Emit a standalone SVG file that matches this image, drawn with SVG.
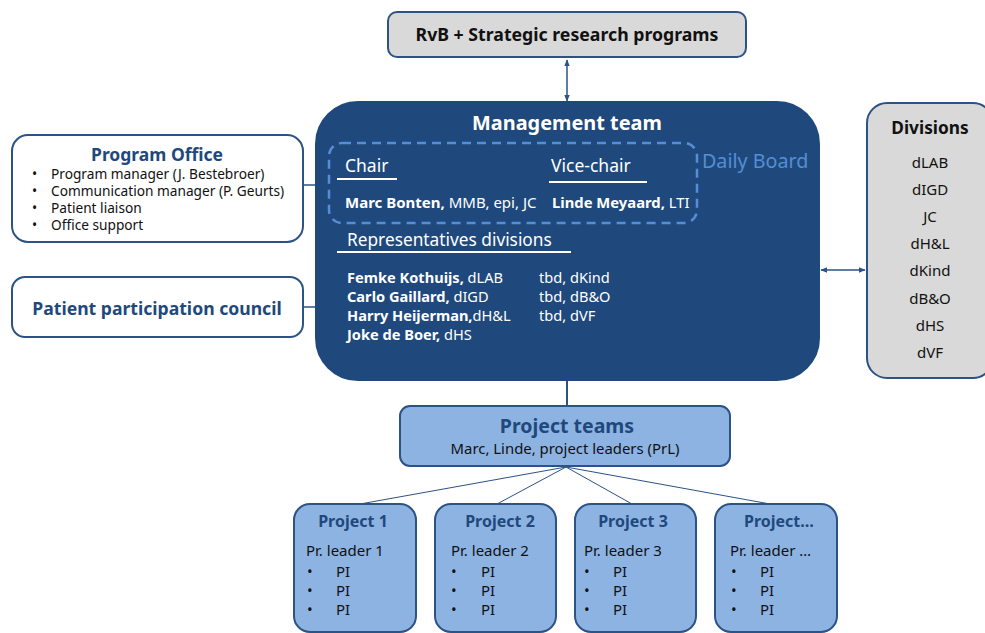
<svg xmlns="http://www.w3.org/2000/svg" width="985" height="633" viewBox="0 0 985 633">
<style>
text{font-family:"Noto Sans","Open Sans","DejaVu Sans",sans-serif;}
.box{stroke:#2c5286;stroke-width:2;}
.gray{fill:#d9d9d9;}
.white{fill:#ffffff;}
.proj{fill:#8db3e2;}
.conn{stroke:#2c5286;fill:none;}
.wt{fill:#ffffff;}
.navy{fill:#1f497d;}
.blk{fill:#111111;}
.b{font-weight:bold;}
.ul{stroke:#ffffff;stroke-width:2;}
</style>
<defs>
<marker id="ah" viewBox="0 0 10 10" refX="9" refY="5" markerWidth="7" markerHeight="7" orient="auto-start-reverse" markerUnits="userSpaceOnUse">
<path d="M0,1 L10,5 L0,9 z" fill="#2c5286"/>
</marker>
</defs>
<g id="connectors">
<line class="conn" x1="567" y1="60" x2="567" y2="101" stroke-width="1.5" marker-start="url(#ah)" marker-end="url(#ah)"/>
<line class="conn" x1="303" y1="185" x2="316" y2="185" stroke-width="1.5"/>
<line class="conn" x1="303" y1="307" x2="316" y2="307" stroke-width="1.5"/>
<line class="conn" x1="821" y1="270" x2="865" y2="270" stroke-width="1.5" marker-start="url(#ah)" marker-end="url(#ah)"/>
<line class="conn" x1="567" y1="380" x2="567" y2="406" stroke-width="2"/>
<line class="conn" x1="566" y1="467" x2="360" y2="504" stroke-width="1"/>
<line class="conn" x1="566" y1="467" x2="497" y2="504" stroke-width="1"/>
<line class="conn" x1="566" y1="467" x2="632" y2="504" stroke-width="1"/>
<line class="conn" x1="566" y1="467" x2="770" y2="504" stroke-width="1"/>
</g>
<g id="rvb">
<rect class="box gray" x="388" y="12" width="358" height="45" rx="9"/>
<text x="567" y="41" text-anchor="middle" class="blk b" font-size="17.7">RvB + Strategic research programs</text>
</g>
<g id="management">
<rect x="316" y="102" width="503" height="278" rx="42" fill="#1f497d" stroke="#1f497d" stroke-width="2"/>
<text x="567" y="130" text-anchor="middle" class="wt b" font-size="19.9">Management team</text>
<rect x="329" y="143" width="368" height="80" rx="13" fill="none" stroke="#558ed5" stroke-width="2.5" stroke-dasharray="9,6"/>
<text x="702" y="168" font-size="19.7" fill="#558ed5">Daily Board</text>
<text x="345" y="172" class="wt" font-size="17.5">Chair</text>
<line class="ul" x1="337" y1="179" x2="397" y2="179"/>
<text x="551" y="172" class="wt" font-size="17.5">Vice-chair</text>
<line class="ul" x1="549" y1="182" x2="647" y2="182"/>
<text x="345" y="208" class="wt" font-size="15"><tspan class="b">Marc Bonten,</tspan> MMB, epi, JC</text>
<text x="552" y="208" class="wt" font-size="14.8"><tspan class="b">Linde Meyaard,</tspan> LTI</text>
<text x="347" y="246" class="wt" font-size="17.3">Representatives divisions</text>
<line class="ul" x1="337" y1="252" x2="571" y2="252"/>
<g class="wt" font-size="14.6">
<text x="347" y="283"><tspan class="b">Femke Kothuijs,</tspan> dLAB</text>
<text x="347" y="302"><tspan class="b">Carlo Gaillard,</tspan> dIGD</text>
<text x="347" y="321"><tspan class="b">Harry Heijerman,</tspan>dH&amp;L</text>
<text x="347" y="340"><tspan class="b">Joke de Boer,</tspan> dHS</text>
<text x="539" y="283">tbd, dKind</text>
<text x="539" y="302">tbd, dB&amp;O</text>
<text x="539" y="321">tbd, dVF</text>
</g>
</g>
<g id="program-office">
<rect class="box white" x="12" y="135" width="291" height="107" rx="16"/>
<text x="157" y="161" text-anchor="middle" class="navy b" font-size="17.5">Program Office</text>
<g class="blk" font-size="13.7">
<text x="32" y="179">•</text><text x="51" y="179">Program manager (J. Bestebroer)</text>
<text x="32" y="196">•</text><text x="51" y="196">Communication manager (P. Geurts)</text>
<text x="32" y="213">•</text><text x="51" y="213">Patient liaison</text>
<text x="32" y="230">•</text><text x="51" y="230">Office support</text>
</g>
</g>
<g id="patient-council">
<rect class="box white" x="12" y="277" width="291" height="60" rx="13"/>
<text x="157" y="315" text-anchor="middle" class="navy b" font-size="17.6">Patient participation council</text>
</g>
<g id="divisions">
<rect class="box gray" x="867" y="103" width="126" height="275" rx="20"/>
<text x="930" y="134" text-anchor="middle" class="blk b" font-size="17.3">Divisions</text>
<g class="blk" font-size="15" text-anchor="middle">
<text x="930" y="168">dLAB</text>
<text x="930" y="195">dIGD</text>
<text x="930" y="222">JC</text>
<text x="930" y="249">dH&amp;L</text>
<text x="930" y="276">dKind</text>
<text x="930" y="304">dB&amp;O</text>
<text x="930" y="331">dHS</text>
<text x="930" y="358">dVF</text>
</g>
</g>
<g id="project-teams">
<rect class="box proj" x="400" y="406" width="330" height="60" rx="10"/>
<text x="567" y="433" text-anchor="middle" class="navy b" font-size="19.5">Project teams</text>
<text x="565" y="454" text-anchor="middle" class="blk" font-size="14.9">Marc, Linde, project leaders (PrL)</text>
</g>
<g id="project-1">
<rect class="box proj" x="294" y="504" width="122" height="128" rx="16"/>
<text x="353" y="527" text-anchor="middle" class="navy b" font-size="16">Project 1</text>
<g class="blk" font-size="15">
<text x="306" y="556">Pr. leader 1</text>
<text x="307" y="577">•</text><text x="336" y="577">PI</text>
<text x="307" y="596">•</text><text x="336" y="596">PI</text>
<text x="307" y="615">•</text><text x="336" y="615">PI</text>
</g>
</g>
<g id="project-2">
<rect class="box proj" x="435" y="504" width="121" height="128" rx="16"/>
<text x="500" y="527" text-anchor="middle" class="navy b" font-size="16">Project 2</text>
<g class="blk" font-size="15">
<text x="451" y="556">Pr. leader 2</text>
<text x="451" y="577">•</text><text x="481" y="577">PI</text>
<text x="451" y="596">•</text><text x="481" y="596">PI</text>
<text x="451" y="615">•</text><text x="481" y="615">PI</text>
</g>
</g>
<g id="project-3">
<rect class="box proj" x="575" y="504" width="121" height="128" rx="16"/>
<text x="633" y="527" text-anchor="middle" class="navy b" font-size="16">Project 3</text>
<g class="blk" font-size="15">
<text x="584" y="556">Pr. leader 3</text>
<text x="584" y="577">•</text><text x="613" y="577">PI</text>
<text x="584" y="596">•</text><text x="613" y="596">PI</text>
<text x="584" y="615">•</text><text x="613" y="615">PI</text>
</g>
</g>
<g id="project-4">
<rect class="box proj" x="715" y="504" width="122" height="128" rx="16"/>
<text x="779" y="527" text-anchor="middle" class="navy b" font-size="16">Project…</text>
<g class="blk" font-size="15">
<text x="730" y="556">Pr. leader …</text>
<text x="731" y="577">•</text><text x="760" y="577">PI</text>
<text x="731" y="596">•</text><text x="760" y="596">PI</text>
<text x="731" y="615">•</text><text x="760" y="615">PI</text>
</g>
</g>
</svg>
